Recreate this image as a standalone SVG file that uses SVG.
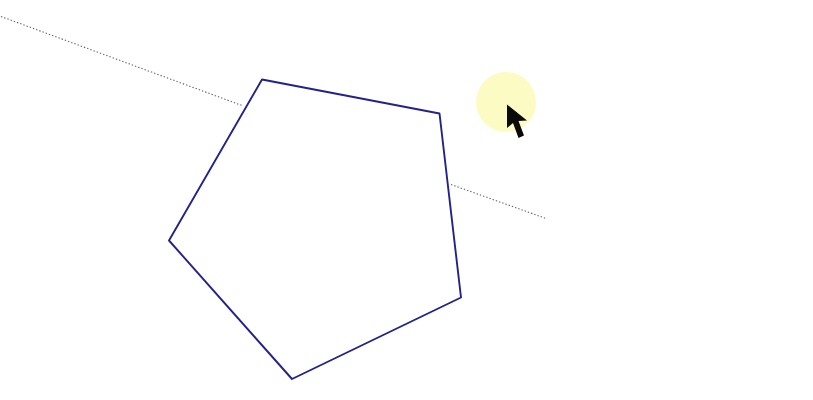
<svg xmlns="http://www.w3.org/2000/svg" width="813" height="400" viewBox="0 0 813 400">
<style>
.guide{fill:none;stroke:#666;stroke-width:1.1;stroke-dasharray:1.4 2}
.pent{fill:#fff;stroke:#22228a;stroke-width:1.9;stroke-linejoin:round}
</style>
<rect width="813" height="400" fill="#fff"/>
<g id="connectors">
<line class="guide" x1="1" y1="16.500" x2="242" y2="105.500"/>
<line class="guide" x1="451" y1="184.500" x2="546" y2="218.500"/>
</g>
<g id="pentagon">
<polygon class="pent" points="262,79.500 439.500,113.500 461,297.500 292,379 169,240.500"/>
</g>
<g id="cursor-highlight">
<circle cx="506" cy="102" r="30" fill="#fdfbc4"/>
<path d="M507 104.500 L507 128 L513 123 L518.500 138 L524 135.500 L518.500 121 L527 120.500 Z" fill="#0a0a0a"/>
</g>
</svg>
